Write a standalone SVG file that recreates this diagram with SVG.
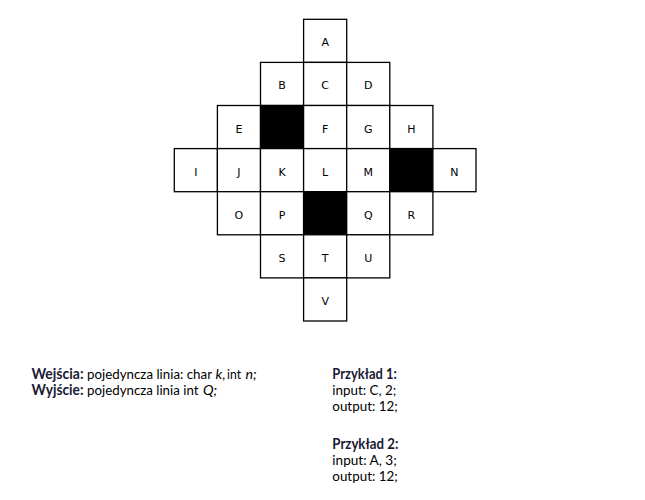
<svg xmlns="http://www.w3.org/2000/svg" width="645" height="500" viewBox="0 0 645 500">
<style>
.c{fill:#fff;stroke:#000;stroke-width:1.3}
.b{fill:#000;stroke:#000;stroke-width:1.3}
.l{font-family:"DejaVu Sans",Verdana,sans-serif;font-size:11px;fill:#000;text-anchor:middle}
.t{font-family:Lato,"Liberation Sans",sans-serif;font-size:14.2px;fill:#000}
.s{font-size:13.5px}
.h{font-weight:bold;fill:#1a1a33}
.i{font-style:italic}
</style>
<rect width="645" height="500" fill="#fff"/>
<g id="cells">
<g id="A"><rect class="c" x="303.6" y="19.3" width="43.1" height="43.1"/><text class="l" x="325.15" y="46.3">A</text></g>
<g id="B"><rect class="c" x="260.5" y="62.4" width="43.1" height="43.1"/><text class="l" x="282.05" y="89.4">B</text></g>
<g id="C"><rect class="c" x="303.6" y="62.4" width="43.1" height="43.1"/><text class="l" x="325.15" y="89.4">C</text></g>
<g id="D"><rect class="c" x="346.7" y="62.4" width="43.1" height="43.1"/><text class="l" x="368.25" y="89.4">D</text></g>
<g id="E"><rect class="c" x="217.4" y="105.5" width="43.1" height="43.1"/><text class="l" x="238.95" y="132.5">E</text></g>
<g id="block1"><rect class="b" x="260.5" y="105.5" width="43.1" height="43.1"/></g>
<g id="F"><rect class="c" x="303.6" y="105.5" width="43.1" height="43.1"/><text class="l" x="325.15" y="132.5">F</text></g>
<g id="G"><rect class="c" x="346.7" y="105.5" width="43.1" height="43.1"/><text class="l" x="368.25" y="132.5">G</text></g>
<g id="H"><rect class="c" x="389.8" y="105.5" width="43.1" height="43.1"/><text class="l" x="411.35" y="132.5">H</text></g>
<g id="I"><rect class="c" x="174.3" y="148.6" width="43.1" height="43.1"/><text class="l" x="195.85" y="175.6">I</text></g>
<g id="J"><rect class="c" x="217.4" y="148.6" width="43.1" height="43.1"/><text class="l" x="238.95" y="175.6">J</text></g>
<g id="K"><rect class="c" x="260.5" y="148.6" width="43.1" height="43.1"/><text class="l" x="282.05" y="175.6">K</text></g>
<g id="L"><rect class="c" x="303.6" y="148.6" width="43.1" height="43.1"/><text class="l" x="325.15" y="175.6">L</text></g>
<g id="M"><rect class="c" x="346.7" y="148.6" width="43.1" height="43.1"/><text class="l" x="368.25" y="175.6">M</text></g>
<g id="block2"><rect class="b" x="389.8" y="148.6" width="43.1" height="43.1"/></g>
<g id="N"><rect class="c" x="432.9" y="148.6" width="43.1" height="43.1"/><text class="l" x="454.45" y="175.6">N</text></g>
<g id="O"><rect class="c" x="217.4" y="191.7" width="43.1" height="43.1"/><text class="l" x="238.95" y="218.7">O</text></g>
<g id="P"><rect class="c" x="260.5" y="191.7" width="43.1" height="43.1"/><text class="l" x="282.05" y="218.7">P</text></g>
<g id="block3"><rect class="b" x="303.6" y="191.7" width="43.1" height="43.1"/></g>
<g id="Q"><rect class="c" x="346.7" y="191.7" width="43.1" height="43.1"/><text class="l" x="368.25" y="218.7">Q</text></g>
<g id="R"><rect class="c" x="389.8" y="191.7" width="43.1" height="43.1"/><text class="l" x="411.35" y="218.7">R</text></g>
<g id="S"><rect class="c" x="260.5" y="234.8" width="43.1" height="43.1"/><text class="l" x="282.05" y="261.8">S</text></g>
<g id="T"><rect class="c" x="303.6" y="234.8" width="43.1" height="43.1"/><text class="l" x="325.15" y="261.8">T</text></g>
<g id="U"><rect class="c" x="346.7" y="234.8" width="43.1" height="43.1"/><text class="l" x="368.25" y="261.8">U</text></g>
<g id="V"><rect class="c" x="303.6" y="277.9" width="43.1" height="43.1"/><text class="l" x="325.15" y="304.9">V</text></g>
</g>
<g id="description">
<text class="t h" x="31.5" y="379" textLength="52" lengthAdjust="spacingAndGlyphs">Wejścia:</text>
<text class="t s" x="87" y="379" textLength="125" lengthAdjust="spacingAndGlyphs">pojedyncza linia: char</text>
<text class="t i" x="215.5" y="379">k</text>
<text class="t" x="222" y="379">,</text>
<text class="t" x="227" y="379" textLength="14" lengthAdjust="spacingAndGlyphs">int</text>
<text class="t i" x="245.5" y="379">n;</text>
<text class="t h" x="31.5" y="395" textLength="52" lengthAdjust="spacingAndGlyphs">Wyjście:</text>
<text class="t s" x="87" y="395" textLength="111.5" lengthAdjust="spacingAndGlyphs">pojedyncza linia int</text>
<text class="t i" x="203" y="395">Q;</text>
</g>
<g id="examples">
<text class="t h" x="332.3" y="379" textLength="64.5" lengthAdjust="spacingAndGlyphs">Przykład 1:</text>
<text class="t" x="332.3" y="395" textLength="64" lengthAdjust="spacingAndGlyphs">input: C, 2;</text>
<text class="t" x="332.3" y="411" textLength="65.5" lengthAdjust="spacingAndGlyphs">output: 12;</text>
<text class="t h" x="332.3" y="448.5" textLength="66" lengthAdjust="spacingAndGlyphs">Przykład 2:</text>
<text class="t" x="332.3" y="465" textLength="64.5" lengthAdjust="spacingAndGlyphs">input: A, 3;</text>
<text class="t" x="332.3" y="481" textLength="65.5" lengthAdjust="spacingAndGlyphs">output: 12;</text>
</g>
</svg>
